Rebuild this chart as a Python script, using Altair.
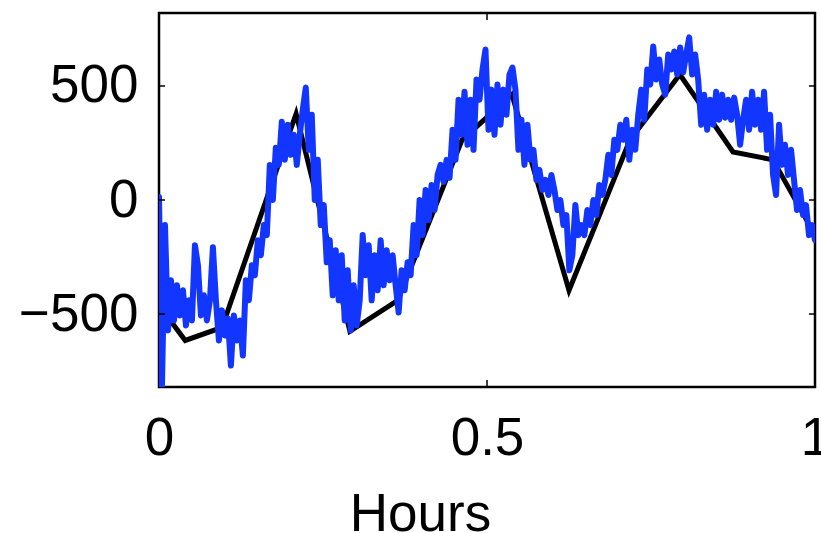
import altair as alt
import numpy as np
import pandas as pd

# Black reference trace (knots): hours, value
ref_hours = [0.0, 0.040, 0.096, 0.209, 0.291, 0.364, 0.462, 0.538, 0.625, 0.718, 0.794, 0.875, 0.936, 1.0]
ref_vals = [-462, -616, -559, 378, -576, -440, 264, 462, -396, 264, 550, 211, 176, -154]

# Blue measured trace, sampled evenly over the hour
meas_vals = [
    13, -814, -110, -572, -352, -528, -374, -506, -396, -550,
    -440, -528, -198, -286, -506, -418, -528, -440, -207, -440,
    -616, -484, -594, -519, -726, -506, -616, -528, -682, -352,
    -440, -286, -330, -176, -242, -110, -154, 154, 0, 229,
    154, 343, 176, 330, 198, 286, 154, 286, 396, 493,
    220, 374, 0, 176, -110, -22, -273, -176, -418, -220,
    -440, -242, -528, -308, -572, -374, -550, -440, -154, -330,
    -198, -440, -242, -396, -176, -374, -220, -352, -242, -374,
    -493, -308, -396, -273, -330, -110, -242, 0, -154, 44,
    -88, 66, -44, 110, 154, 79, 176, 97, 308, 176,
    440, 286, 475, 242, 440, 220, 528, 440, 572, 660,
    308, 484, 286, 506, 330, 484, 374, 550, 581, 484,
    220, 352, 154, 330, 176, 220, 88, 132, 44, 88,
    22, 110, 44, -44, 0, -110, -66, -308, -242, -22,
    -154, -110, -154, -44, -110, 0, -66, 66, 22, 88,
    198, 110, 264, 220, 330, 264, 352, 176, 308, 220,
    374, 484, 352, 572, 506, 673, 528, 616, 506, 462,
    638, 572, 651, 550, 669, 560, 638, 713, 550, 638,
    528, 330, 462, 308, 440, 330, 475, 352, 462, 361,
    440, 352, 449, 374, 242, 352, 440, 308, 475, 330,
    440, 308, 475, 220, 374, 110, 22, 330, 154, 242,
    110, 220, 88, -44, 44, -66, -22, -154, -110, -176,
]
meas_hours = np.linspace(0, 1, len(meas_vals))

x_ticks = [0, 0.5, 1]
y_ticks = [-500, 0, 500]
y_domain = [-820, 820]

ref_df = pd.DataFrame({"Hours": ref_hours, "Value": ref_vals})
meas_df = pd.DataFrame({"Hours": meas_hours, "Value": meas_vals})

FONT = "Liberation Sans"
FS = 53

x_scale = alt.Scale(domain=[0, 1], nice=False, zero=False)
y_scale = alt.Scale(domain=y_domain, nice=False, zero=False)

x_axis = alt.Axis(values=x_ticks, title="Hours", labelFont=FONT, titleFont=FONT,
                  labelFontSize=FS, titleFontSize=FS, titleFontWeight="normal",
                  labelColor="black", titleColor="black", domain=False, ticks=False,
                  tickSize=0, grid=False, labelPadding=25, titlePadding=23,
                  labelFlush=False, labelOverlap=False, labelBound=False,
                  titleX=261, titleAnchor="middle", titleAlign="center",
                  labelExpr="toString(datum.value)")
y_axis = alt.Axis(values=y_ticks, title=None, labelFont=FONT, labelFontSize=FS,
                  labelColor="black", domain=False, ticks=False, tickSize=0,
                  grid=False, labelPadding=21, labelFlush=False, labelOverlap=False,
                  format="d")

black = alt.Chart(ref_df).mark_line(color="black", strokeWidth=5, clip=True).encode(
    x=alt.X("Hours:Q", scale=x_scale, axis=x_axis),
    y=alt.Y("Value:Q", scale=y_scale, axis=y_axis),
)
blue = alt.Chart(meas_df).mark_line(color="#1236ff", strokeWidth=6, clip=True,
                                    strokeJoin="round", strokeCap="round").encode(
    x=alt.X("Hours:Q", scale=x_scale),
    y=alt.Y("Value:Q", scale=y_scale),
)

xt_df = pd.DataFrame({"Hours": [0.5, 0.5], "Value": [y_domain[0], y_domain[1]]})
xt = alt.Chart(xt_df).mark_tick(orient="vertical", size=14, thickness=1.5,
                                color="black", clip=True, opacity=1).encode(
    x=alt.X("Hours:Q", scale=x_scale),
    y=alt.Y("Value:Q", scale=y_scale),
)
yt_df = pd.DataFrame({"Hours": [0] * 3 + [1] * 3, "Value": y_ticks + y_ticks})
yt = alt.Chart(yt_df).mark_tick(orient="horizontal", size=12, thickness=1.5,
                                color="black", clip=True, opacity=1).encode(
    x=alt.X("Hours:Q", scale=x_scale),
    y=alt.Y("Value:Q", scale=y_scale),
)

chart = alt.layer(black, blue, xt, yt).properties(
    width=656, height=374,
    autosize=alt.AutoSizeParams(type="none"),
    padding={"left": 159, "top": 13, "right": 6, "bottom": 146},
    background="white",
).configure_view(stroke="black", strokeWidth=2.5)

chart.save("out.html", embed_options={"renderer": "svg", "actions": False})
